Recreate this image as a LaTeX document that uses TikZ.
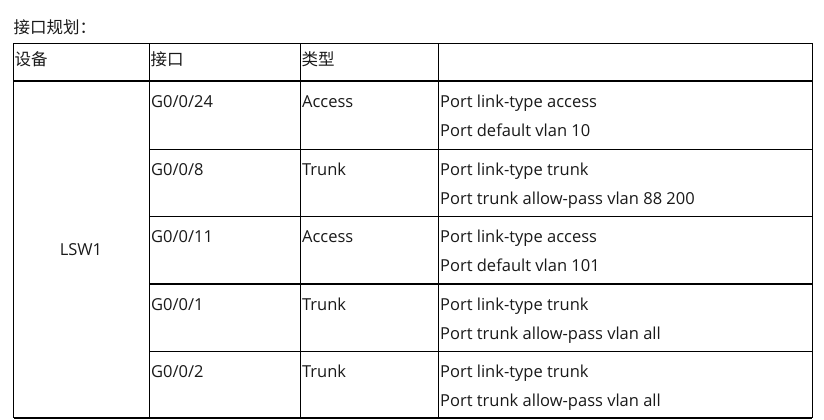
\documentclass[tikz,border=0pt]{standalone}
\usepackage{fontspec}
\setmainfont{Open Sans}
\newfontfamily\cjk{Noto Sans CJK SC}

\begin{document}
\begin{tikzpicture}[x=1pt,y=-1pt,line width=1.3pt,
  cell/.style={anchor=base west,inner sep=0pt,text=black!90,font=\fontsize{16.5}{19}\selectfont}]

  \useasboundingbox (0,0) rectangle (824,420);

  \node[cell] (title) at (13,34) {\cjk 接口规划：};

  % grid
  \foreach \y in {43.5,81,418}
    \draw (13.5,\y) -- (812.3,\y);
  \foreach \y in {149.5,216.7,284,351.3}
    \draw (149.5,\y) -- (812.3,\y);
  \foreach \x in {13.5,149.5,300.5,438.5,812.3}
    \draw (\x,43.5) -- (\x,418);

  % header
  \node[cell] (dev)  at (14,66)  {\cjk 设备};
  \node[cell] (port) at (150,66) {\cjk 接口};
  \node[cell] (kind) at (301,66) {\cjk 类型};

  \node[cell,anchor=center] (lsw) at (81,250) {LSW1};

  \foreach \i/\top/\port/\kind/\cmda/\cmdb in {
    1/81/{G0/0/24}/Access/{Port link-type access}/{Port default vlan 10},
    2/149.5/{G0/0/8}/Trunk/{Port link-type trunk}/{Port trunk allow-pass vlan 88 200},
    3/216.7/{G0/0/11}/Access/{Port link-type access}/{Port default vlan 101},
    4/284/{G0/0/1}/Trunk/{Port link-type trunk}/{Port trunk allow-pass vlan all},
    5/351.3/{G0/0/2}/Trunk/{Port link-type trunk}/{Port trunk allow-pass vlan all}}
  {
    \node[cell] (p\i)  at (150.5,\top+26) {\port};
    \node[cell] (k\i)  at (301.5,\top+26) {\kind};
    \node[cell] (ca\i) at (439.5,\top+26) {\cmda};
    \node[cell] (cb\i) at (439.5,\top+55) {\cmdb};
  }

\end{tikzpicture}
\end{document}
